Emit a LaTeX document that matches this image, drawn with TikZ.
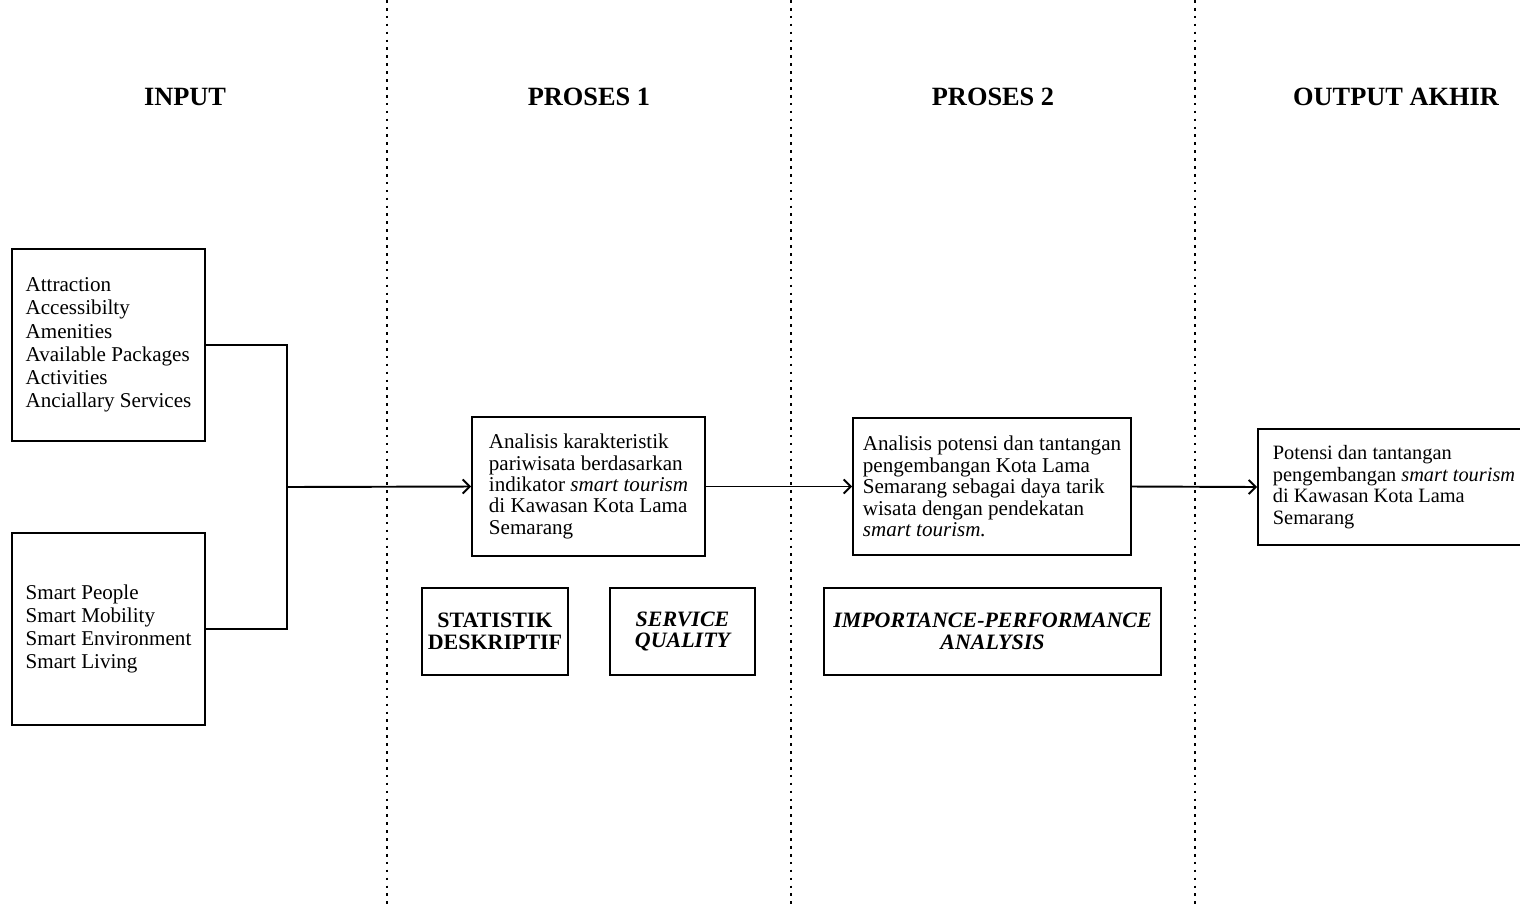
\documentclass[tikz,border=0pt]{standalone}
\usepackage{fontspec}
\setmainfont{Liberation Serif}
\usepackage{tikz}
\usetikzlibrary{arrows,arrows.meta}
\usetikzlibrary{calc}
\tikzstyle{head} = [font=\fontsize{15}{17}\selectfont\bfseries]
\tikzstyle{txtbox} = [rectangle, draw, line width=1.1pt, align=left, font=\fontsize{12}{13.2}\selectfont]
\tikzstyle{prbox} = [rectangle, draw, line width=1.1pt, align=left, font=\fontsize{12}{12.2}\selectfont]
\tikzstyle{methbox} = [rectangle, draw, line width=1.1pt, align=center, font=\fontsize{12.5}{12.5}\selectfont\bfseries]
\tikzstyle{sep} = [line width=1.1pt, dash pattern=on 1.5pt off 3pt]
\tikzstyle{link} = [line width=1.1pt]
\tikzstyle{arr} = [line width=1.1pt, -{Straight Barb[length=4pt,width=8pt]}]

\begin{document}
\begin{tikzpicture}[x=0.02cm,y=-0.02cm]
	%	pixel grid of the figure, y downwards
		\useasboundingbox (0,0) rectangle (1520,907);
		\foreach \x in {387,791,1195}
		\draw[sep] (\x,0) -- (\x,907);
	%	column titles
		\node[head] (h1) at (185,97) {INPUT};
		\node[head] (h2) at (589,97) {PROSES 1};
		\node[head] (h3) at (993,97) {PROSES 2};
		\node[head] (h4) at (1396,97) {OUTPUT AKHIR};
	%	input boxes
		\node[txtbox, minimum width=3.86cm, minimum height=3.84cm] (ina) at (108.5,345)
		{Attraction\\Accessibilty\\Amenities\\Available Packages\\Activities\\Anciallary Services};
		\node[txtbox, minimum width=3.86cm, minimum height=3.84cm] (inb) at (108.5,629)
		{Smart People\\Smart Mobility\\Smart Environment\\Smart Living};
		\coordinate (jn) at (287,487);
	%	process boxes
		\node[prbox, minimum width=4.66cm, minimum height=2.78cm] (p1) at (588.5,486.5)
		{Analisis karakteristik\\pariwisata berdasarkan\\indikator \textit{smart tourism}\\di Kawasan Kota Lama\\Semarang};
		\node[prbox, minimum width=5.56cm, minimum height=2.74cm] (p2) at (992,486.5)
		{Analisis potensi dan tantangan\\pengembangan Kota Lama\\Semarang sebagai daya tarik\\wisata dengan pendekatan\\\textit{smart tourism.}};
		\node[prbox, font=\fontsize{11.6}{12.2}\selectfont, minimum width=5.44cm, minimum height=2.32cm] (out) at (1394,487)
		{Potensi dan tantangan\\pengembangan \textit{smart tourism}\\di Kawasan Kota Lama\\Semarang};
	%	methods
		\node[methbox, minimum width=2.92cm, minimum height=1.74cm] (sd) at (495,631.5) {STATISTIK\\DESKRIPTIF};
		\node[methbox, minimum width=2.9cm, minimum height=1.74cm] (sq) at (682.5,631.5) {\itshape SERVICE\\\itshape QUALITY};
		\node[methbox, minimum width=6.74cm, minimum height=1.74cm] (ipa) at (992.5,631.5) {\itshape IMPORTANCE-PERFORMANCE\\\itshape ANALYSIS};
	%	connectors
		\draw[link] (ina.east) -| (jn) |- (inb.east);
		\draw[arr] (jn) -- (p1.west);
		\foreach \from/\to in {p1/p2,p2/out}
		\draw[arr] (\from.east) -- (\to.west);
	\end{tikzpicture}
\end{document}
